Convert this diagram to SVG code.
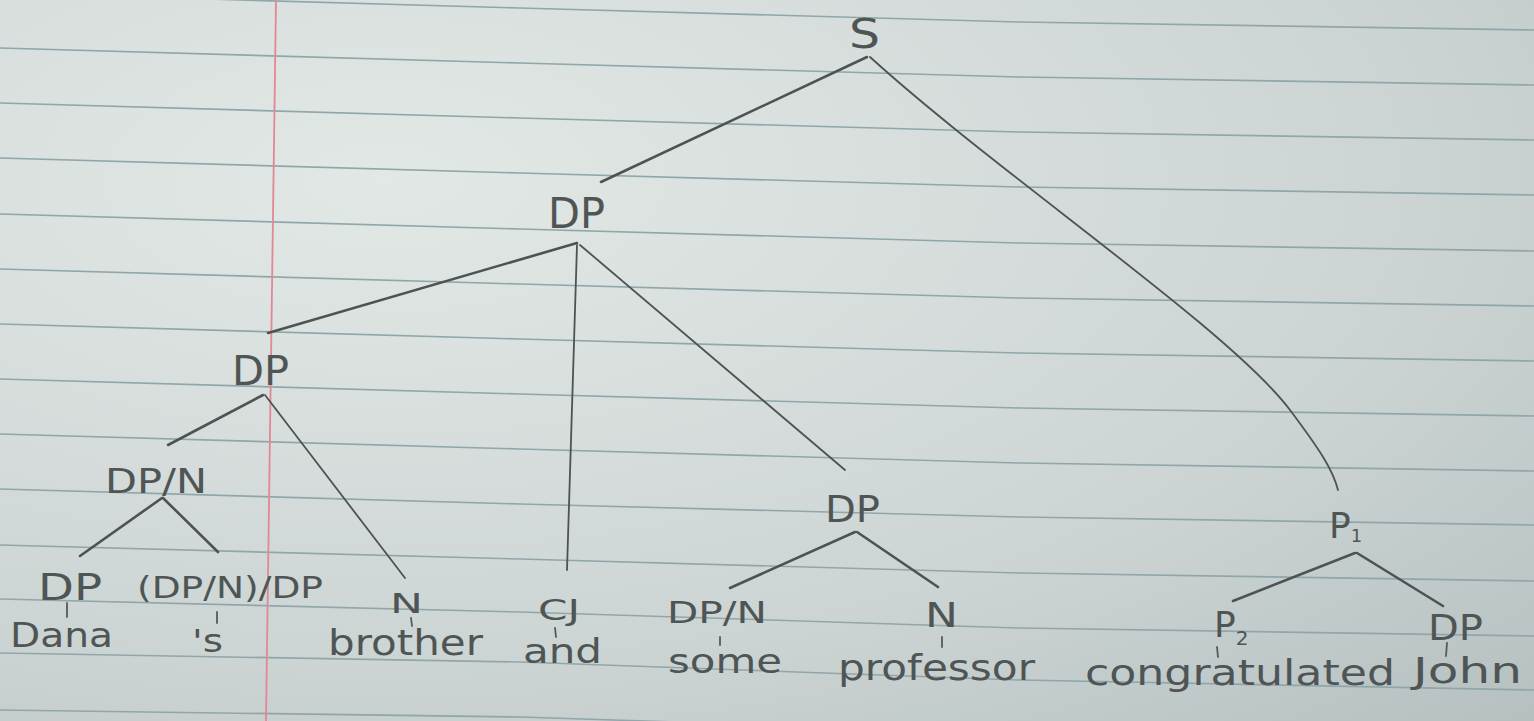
<svg xmlns="http://www.w3.org/2000/svg" width="1534" height="721" viewBox="0 0 1534 721">
  <defs>
    <radialGradient id="paper" cx="0.25" cy="0.25" r="1.1">
      <stop offset="0" stop-color="#e2e8e6"/>
      <stop offset="0.6" stop-color="#cdd5d4"/>
      <stop offset="1" stop-color="#b3bebf"/>
    </radialGradient>
    <style>
      .rule { fill: none; stroke: #90a6ab; stroke-width: 1.6; }
      .margin { fill: none; stroke: #e28796; stroke-width: 1.8; }
      .edge { fill: none; stroke: #4d5352; stroke-width: 2.6; stroke-linecap: round; }
      .thin { fill: none; stroke: #4d5352; stroke-width: 1.8; stroke-linecap: round; }
      .tick { fill: none; stroke: #555a59; stroke-width: 1.8; stroke-linecap: round; }
      .lbl { font-family: "DejaVu Sans", "Liberation Sans", sans-serif; fill: #4f5554; text-anchor: start; }
      .word { font-family: "DejaVu Sans", "Liberation Sans", sans-serif; fill: #4f5554; }
    </style>
  </defs>

  <rect x="0" y="0" width="1534" height="721" fill="url(#paper)"/>

  <g id="paper-lines">
    <polyline class="rule" points="0,-7 520,8 1020,22 1534,30"/>
    <polyline class="rule" points="0,48 520,63 1020,77 1534,85"/>
    <polyline class="rule" points="0,103 520,118 1020,132 1534,140"/>
    <polyline class="rule" points="0,158 520,173 1020,187 1534,195"/>
    <polyline class="rule" points="0,214 520,229 1020,243 1534,251"/>
    <polyline class="rule" points="0,269 520,284 1020,298 1534,306"/>
    <polyline class="rule" points="0,324 520,339 1020,353 1534,361"/>
    <polyline class="rule" points="0,379 520,394 1020,408 1534,416"/>
    <polyline class="rule" points="0,434 520,449 1020,463 1534,471"/>
    <polyline class="rule" points="0,489 520,504 1020,517 1534,525"/>
    <polyline class="rule" points="0,545 520,559 1020,573 1534,581"/>
    <polyline class="rule" points="0,599 520,612 1020,628 1534,636"/>
    <polyline class="rule" points="0,653 520,662 1020,680 1534,690"/>
    <polyline class="rule" points="0,710 520,717 1020,733 1534,743"/>
    <line class="margin" x1="276" y1="0" x2="266" y2="721"/>
  </g>

  <g id="connectors">
    <line class="edge" x1="867" y1="57" x2="601" y2="182"/>
    <path class="thin" d="M870,57 C1000,175 1230,330 1290,410 C1320,450 1333,470 1338,490"/>
    <line class="edge" x1="577" y1="243" x2="268" y2="333"/>
    <line class="thin" x1="577" y1="245" x2="567" y2="570"/>
    <line class="thin" x1="580" y1="245" x2="845" y2="470"/>
    <line class="edge" x1="263" y1="395" x2="168" y2="445"/>
    <line class="thin" x1="265" y1="395" x2="405" y2="578"/>
    <line class="edge" x1="162" y1="498" x2="80" y2="556"/>
    <line class="edge" x1="163" y1="498" x2="218" y2="552"/>
    <line class="edge" x1="855" y1="532" x2="730" y2="588"/>
    <line class="edge" x1="857" y1="532" x2="938" y2="587"/>
    <line class="edge" x1="1355" y1="553" x2="1233" y2="601"/>
    <line class="edge" x1="1357" y1="553" x2="1443" y2="606"/>
    <line class="tick" x1="67" y1="603" x2="67" y2="617"/>
    <line class="tick" x1="217" y1="612" x2="217" y2="623"/>
    <line class="tick" x1="411" y1="618" x2="412" y2="626"/>
    <line class="tick" x1="555" y1="628" x2="556" y2="637"/>
    <line class="tick" x1="720" y1="637" x2="720" y2="645"/>
    <line class="tick" x1="942" y1="637" x2="942" y2="647"/>
    <line class="tick" x1="1217" y1="647" x2="1218" y2="657"/>
    <line class="tick" x1="1447" y1="643" x2="1446" y2="656"/>
  </g>

  <g id="node-S"><text class="lbl" x="849" y="48" font-size="40" textLength="31" lengthAdjust="spacingAndGlyphs">S</text></g>
  <g id="node-DP-root"><text class="lbl" x="548" y="228" font-size="42" textLength="57" lengthAdjust="spacingAndGlyphs">DP</text></g>
  <g id="node-DP-possessor"><text class="lbl" x="232" y="385" font-size="40" textLength="57" lengthAdjust="spacingAndGlyphs">DP</text></g>
  <g id="node-DPN-poss"><text class="lbl" x="105" y="493" font-size="34" textLength="102" lengthAdjust="spacingAndGlyphs">DP/N</text></g>
  <g id="node-DP-Dana">
    <text class="lbl" x="38" y="600" font-size="38" textLength="64" lengthAdjust="spacingAndGlyphs">DP</text>
    <text class="word" x="10" y="647" font-size="34" textLength="103" lengthAdjust="spacingAndGlyphs">Dana</text>
  </g>
  <g id="node-poss-s">
    <text class="lbl" x="137" y="598" font-size="30" textLength="186" lengthAdjust="spacingAndGlyphs">(DP/N)/DP</text>
    <text class="word" x="192" y="652" font-size="32" textLength="31" lengthAdjust="spacingAndGlyphs">'s</text>
  </g>
  <g id="node-N-brother">
    <text class="lbl" x="390" y="613" font-size="26" textLength="33" lengthAdjust="spacingAndGlyphs">N</text>
    <text class="word" x="328" y="655" font-size="36" textLength="155" lengthAdjust="spacingAndGlyphs">brother</text>
  </g>
  <g id="node-CJ">
    <text class="lbl" x="538" y="620" font-size="28" textLength="42" lengthAdjust="spacingAndGlyphs">CJ</text>
    <text class="word" x="523" y="663" font-size="34" textLength="79" lengthAdjust="spacingAndGlyphs">and</text>
  </g>
  <g id="node-DP-second"><text class="lbl" x="825" y="522" font-size="38" textLength="55" lengthAdjust="spacingAndGlyphs">DP</text></g>
  <g id="node-DPN-some">
    <text class="lbl" x="667" y="623" font-size="30" textLength="100" lengthAdjust="spacingAndGlyphs">DP/N</text>
    <text class="word" x="668" y="673" font-size="34" textLength="114" lengthAdjust="spacingAndGlyphs">some</text>
  </g>
  <g id="node-N-professor">
    <text class="lbl" x="925" y="627" font-size="34" textLength="33" lengthAdjust="spacingAndGlyphs">N</text>
    <text class="word" x="838" y="680" font-size="36" textLength="197" lengthAdjust="spacingAndGlyphs">professor</text>
  </g>
  <g id="node-P1">
    <text class="lbl" x="1329" y="538" font-size="36">P<tspan font-size="18" dy="4">1</tspan></text>
  </g>
  <g id="node-P2">
    <text class="lbl" x="1214" y="637" font-size="36">P<tspan font-size="20" dy="8">2</tspan></text>
    <text class="word" x="1085" y="685" font-size="36" textLength="310" lengthAdjust="spacingAndGlyphs">congratulated</text>
  </g>
  <g id="node-DP-John">
    <text class="lbl" x="1428" y="640" font-size="36" textLength="55" lengthAdjust="spacingAndGlyphs">DP</text>
    <text class="word" x="1413" y="683" font-size="36" textLength="109" lengthAdjust="spacingAndGlyphs">John</text>
  </g>
</svg>
